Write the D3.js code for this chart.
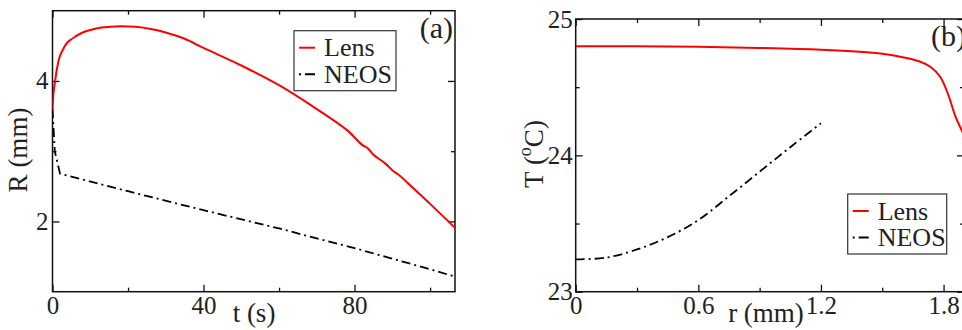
<!DOCTYPE html>
<html>
<head>
<meta charset="utf-8">
<script src="https://cdn.jsdelivr.net/npm/d3@7/dist/d3.min.js"></script>
<style>
  html, body { margin: 0; padding: 0; background: #fff; }
  svg text { font-family: "Liberation Serif", "Times New Roman", serif; fill: #222; }
</style>
</head>
<body>
<svg id="chart" width="962" height="330"></svg>
<script>
// --- panel (a): R (mm) vs t (s) ---
const lensA = [[0, 3.6], [0.3, 3.85], [0.7, 4.0], [1.2, 4.18], [2, 4.36], [3, 4.47], [4, 4.55], [6, 4.63],
    [8, 4.69], [10, 4.725], [13, 4.76], [18, 4.78], [22, 4.77], [26, 4.74], [30, 4.69], [35, 4.6],
    [40, 4.47], [50, 4.22], [60, 3.94], [70, 3.6], [78, 3.3], [82, 3.09], [83.5, 3.04], [85, 2.95],
    [88, 2.83], [90, 2.73], [92, 2.65], [95, 2.5], [100, 2.25], [106.6, 1.91]];
const neosA = [[0, 3.6], [0.6, 3.0], [2, 2.68], [20, 2.43], [40, 2.16], [60, 1.9], [80, 1.62], [100, 1.32], [106.2, 1.22]];
const tMajor = [0, 40, 80];
const tMinor = [20, 60, 100];
const rMajorA = [2, 4];
const rMinorA = [3];

// --- panel (b): T (oC) vs r (mm) ---
const lensB = [[0, 24.80], [0.3, 24.80], [0.6, 24.797], [0.9, 24.788], [1.2, 24.775], [1.39, 24.76], [1.5, 24.745],
    [1.6, 24.72], [1.68, 24.69], [1.735, 24.65], [1.784, 24.575], [1.824, 24.44], [1.857, 24.29], [1.89, 24.18], [1.9, 24.15]];
const neosB = [[0, 23.237], [0.15, 23.25], [0.3, 23.31], [0.45, 23.40], [0.6, 23.525], [0.75, 23.70],
    [0.9, 23.88], [1.05, 24.06], [1.2, 24.235]];
const xMajorB = [0, 0.6, 1.2, 1.8];
const xMinorB = [0.3, 0.9, 1.5];
const yMajorB = [23, 24, 25];
const yMinorB = [23.5, 24.5];

const seriesNames = ["Lens", "NEOS"];
const lensColor = "#ff0000";
const neosDash = "9,4,2,4";

const svg = d3.select("#chart");
svg.append("rect").attr("width", 962).attr("height", 330).attr("fill", "#fff");

// Draws one framed panel with inward ticks on all four sides
function drawPanel(cfg) {
    const x = d3.scaleLinear().domain(cfg.xDomain).range([cfg.left, cfg.right]);
    const y = d3.scaleLinear().domain(cfg.yDomain).range([cfg.bottom, cfg.top]);
    const g = svg.append("g");

    const clipId = "clip-" + cfg.id;
    g.append("clipPath").attr("id", clipId).append("rect")
        .attr("x", cfg.left).attr("y", cfg.top)
        .attr("width", cfg.right - cfg.left).attr("height", cfg.bottom - cfg.top);

    const styleAxis = sel => {
        sel.select(".domain").remove();
        sel.selectAll("line").attr("stroke", "#111").attr("stroke-width", 1.3);
        sel.selectAll("text").attr("font-size", 25).attr("fill", "#222")
            .attr("font-family", "Liberation Serif, serif");
    };

    // bottom / top
    g.append("g").attr("transform", `translate(0,${cfg.bottom})`)
        .call(d3.axisBottom(x).tickValues(cfg.xMajor).tickFormat(cfg.xFormat)
            .tickSizeInner(-7).tickSizeOuter(0).tickPadding(5)).call(styleAxis);
    g.append("g").attr("transform", `translate(0,${cfg.bottom})`)
        .call(d3.axisBottom(x).tickValues(cfg.xMinor).tickFormat("")
            .tickSizeInner(-4).tickSizeOuter(0)).call(styleAxis);
    g.append("g").attr("transform", `translate(0,${cfg.top})`)
        .call(d3.axisTop(x).tickValues(cfg.xMajor).tickFormat("")
            .tickSizeInner(-7).tickSizeOuter(0)).call(styleAxis);
    g.append("g").attr("transform", `translate(0,${cfg.top})`)
        .call(d3.axisTop(x).tickValues(cfg.xMinor).tickFormat("")
            .tickSizeInner(-4).tickSizeOuter(0)).call(styleAxis);
    // left / right
    g.append("g").attr("transform", `translate(${cfg.left},0)`)
        .call(d3.axisLeft(y).tickValues(cfg.yMajor).tickFormat(d3.format("d"))
            .tickSizeInner(-7).tickSizeOuter(0).tickPadding(cfg.yPad)).call(styleAxis);
    g.append("g").attr("transform", `translate(${cfg.left},0)`)
        .call(d3.axisLeft(y).tickValues(cfg.yMinor).tickFormat("")
            .tickSizeInner(-4).tickSizeOuter(0)).call(styleAxis);
    g.append("g").attr("transform", `translate(${cfg.right},0)`)
        .call(d3.axisRight(y).tickValues(cfg.yMajor).tickFormat("")
            .tickSizeInner(-7).tickSizeOuter(0)).call(styleAxis);
    g.append("g").attr("transform", `translate(${cfg.right},0)`)
        .call(d3.axisRight(y).tickValues(cfg.yMinor).tickFormat("")
            .tickSizeInner(-4).tickSizeOuter(0)).call(styleAxis);

    // frame
    g.append("rect").attr("x", cfg.left).attr("y", cfg.top)
        .attr("width", cfg.right - cfg.left).attr("height", cfg.bottom - cfg.top)
        .attr("fill", "none").attr("stroke", "#111").attr("stroke-width", 1.5);

    // curves (lens smooth; NEOS in (a) has a sharp knee so it stays linear)
    const smooth = d3.line().x(d => x(d[0])).y(d => y(d[1])).curve(d3.curveCatmullRom.alpha(0.5));
    const straight = d3.line().x(d => x(d[0])).y(d => y(d[1]));
    const lines = g.append("g").attr("clip-path", `url(#${clipId})`);
    lines.append("path").datum(cfg.lens).attr("d", smooth)
        .attr("fill", "none").attr("stroke", lensColor).attr("stroke-width", 2);
    lines.append("path").datum(cfg.neos).attr("d", cfg.neosSmooth ? smooth : straight)
        .attr("fill", "none").attr("stroke", "#000").attr("stroke-width", 1.8)
        .attr("stroke-dasharray", neosDash);

    // legend
    const lg = g.append("g").attr("transform", `translate(${cfg.legend[0]},${cfg.legend[1]})`);
    lg.append("rect").attr("width", cfg.legend[2]).attr("height", 60)
        .attr("fill", "#fff").attr("stroke", "#333").attr("stroke-width", 1.2);
    seriesNames.forEach((name, i) => {
        const yy = 17 + i * 26.5;
        const l = lg.append("line").attr("x1", 5).attr("x2", 21).attr("y1", yy).attr("y2", yy)
            .attr("stroke-width", 2);
        if (i === 0) l.attr("stroke", lensColor);
        else l.attr("stroke", "#000").attr("stroke-dasharray", "2,4,12");
        lg.append("text").attr("x", 30).attr("y", 25.5 + i * 26.5).attr("font-size", 26).text(name);
    });

    // panel tag
    g.append("text").attr("x", cfg.tag[0]).attr("y", cfg.tag[1]).attr("text-anchor", "end")
        .attr("font-size", 30).text(cfg.tagText);

    // axis titles
    g.append("text").attr("x", cfg.xTitle[0]).attr("y", 322).attr("text-anchor", "middle")
        .attr("font-size", 27).text(cfg.xTitleText);
    const yt = g.append("text").attr("text-anchor", "middle").attr("font-size", 27)
        .attr("transform", `translate(${cfg.yTitle[0]},${cfg.yTitle[1]}) rotate(-90)`);
    cfg.yTitleText(yt);
}

drawPanel({
    id: "a", left: 52.5, right: 455, top: 10.7, bottom: 291.7,
    xDomain: [0, 106.6], yDomain: [1, 5],
    xMajor: tMajor, xMinor: tMinor, yMajor: rMajorA, yMinor: rMinorA,
    xFormat: d3.format("d"), yPad: 4,
    lens: lensA, neos: neosA, neosSmooth: false,
    legend: [294, 30.7, 102],
    tag: [453, 38], tagText: "(a)",
    xTitle: [254], xTitleText: "t (s)",
    yTitle: [27, 150], yTitleText: t => t.text("R (mm)")
});

drawPanel({
    id: "b", left: 575.7, right: 964, top: 19, bottom: 291.7,
    xDomain: [0, 1.9], yDomain: [23, 25],
    xMajor: xMajorB, xMinor: xMinorB, yMajor: yMajorB, yMinor: yMinorB,
    xFormat: d => d === 0 ? "0" : d3.format(".1f")(d), yPad: 3,
    lens: lensB, neos: neosB, neosSmooth: true,
    legend: [847.7, 194, 99],
    tag: [966, 46], tagText: "(b)",
    xTitle: [766], xTitleText: "r (mm)",
    yTitle: [543, 154], yTitleText: t => {
        t.append("tspan").text("T (");
        t.append("tspan").attr("font-size", 18).attr("dy", -12).text("o");
        t.append("tspan").attr("dy", 12).text("C)");
    }
});
</script>
</body>
</html>
